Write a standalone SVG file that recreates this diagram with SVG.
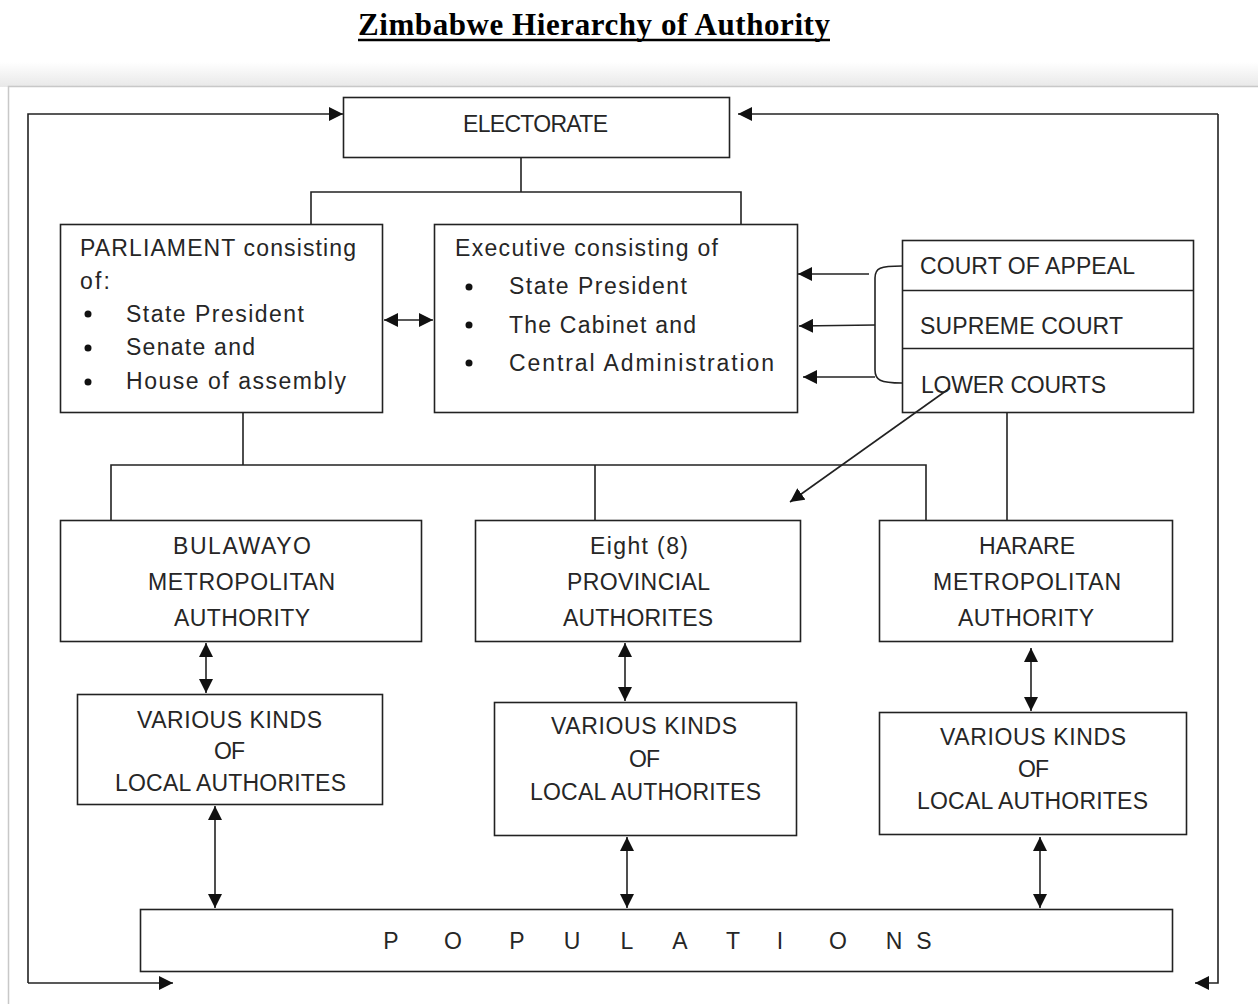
<svg xmlns="http://www.w3.org/2000/svg" width="1258" height="1004" viewBox="0 0 1258 1004">
<defs>
<linearGradient id="shade" x1="0" y1="0" x2="0" y2="1">
<stop offset="0" stop-color="#ffffff"/>
<stop offset="1" stop-color="#e8e8e8"/>
</linearGradient>
<marker id="ah" viewBox="0 0 10 10" refX="10" refY="5" markerWidth="14" markerHeight="14" markerUnits="userSpaceOnUse" orient="auto-start-reverse">
<path d="M0,0 L10,5 L0,10 z" fill="#111"/>
</marker>
<style>
.box{fill:#fff;stroke:#222;stroke-width:1.6}
.ln{fill:none;stroke:#222;stroke-width:1.6}
.ar{fill:none;stroke:#222;stroke-width:1.6;marker-end:url(#ah)}
.da{fill:none;stroke:#222;stroke-width:1.6;marker-start:url(#ah);marker-end:url(#ah)}
.t{font-family:"Liberation Sans",Arial,sans-serif;font-size:23px;fill:#262626}
.c{text-anchor:middle}
.title{font-family:"Liberation Serif","Times New Roman",serif;font-size:31px;font-weight:bold;fill:#000}
</style>
</defs>
<rect x="0" y="0" width="1258" height="1004" fill="#fff"/>
<rect x="0" y="62" width="1258" height="25" fill="url(#shade)"/>
<rect x="8.5" y="86.5" width="1260" height="930" fill="#fff" stroke="#c8c8c8" stroke-width="1.5"/>
<text class="title" x="358" y="35" textLength="472">Zimbabwe Hierarchy of Authority</text>
<line x1="358" y1="40" x2="830" y2="40" stroke="#000" stroke-width="2.5"/>

<g id="electorate">
<rect class="box" x="343.5" y="97.5" width="386" height="60"/>
<text class="t" x="463" y="132" textLength="145">ELECTORATE</text>
</g>

<g id="parliament">
<rect class="box" x="60.5" y="224.5" width="322" height="188"/>
<text class="t" x="80" y="256" textLength="276">PARLIAMENT consisting</text>
<text class="t" x="80" y="289" textLength="30">of:</text>
<circle cx="88" cy="314" r="3.5" fill="#111"/>
<circle cx="88" cy="348" r="3.5" fill="#111"/>
<circle cx="88" cy="382" r="3.5" fill="#111"/>
<text class="t" x="126" y="322" textLength="178">State President</text>
<text class="t" x="126" y="355" textLength="129">Senate and</text>
<text class="t" x="126" y="389" textLength="220">House of assembly</text>
</g>

<g id="executive">
<rect class="box" x="434.5" y="224.5" width="363" height="188"/>
<text class="t" x="455" y="256" textLength="263">Executive consisting of</text>
<circle cx="469" cy="287" r="3.5" fill="#111"/>
<circle cx="469" cy="325" r="3.5" fill="#111"/>
<circle cx="469" cy="363" r="3.5" fill="#111"/>
<text class="t" x="509" y="294" textLength="178">State President</text>
<text class="t" x="509" y="333" textLength="187">The Cabinet and</text>
<text class="t" x="509" y="371" textLength="265">Central Administration</text>
</g>

<g id="courts">
<rect class="box" x="902.5" y="240.5" width="291" height="172"/>
<line class="ln" x1="902" y1="290.5" x2="1194" y2="290.5"/>
<line class="ln" x1="902" y1="348.5" x2="1194" y2="348.5"/>
<text class="t" x="920" y="274" textLength="215">COURT OF APPEAL</text>
<text class="t" x="920" y="334" textLength="203">SUPREME COURT</text>
<text class="t" x="921" y="393" textLength="185">LOWER COURTS</text>
</g>

<g id="bulawayo">
<rect class="box" x="60.5" y="520.5" width="361" height="121"/>
<text class="t" x="173" y="554" textLength="138">BULAWAYO</text>
<text class="t" x="148" y="590" textLength="187">METROPOLITAN</text>
<text class="t" x="174" y="626" textLength="136">AUTHORITY</text>
</g>

<g id="provincial">
<rect class="box" x="475.5" y="520.5" width="325" height="121"/>
<text class="t" x="590" y="554" textLength="98">Eight (8)</text>
<text class="t" x="567" y="590" textLength="143">PROVINCIAL</text>
<text class="t" x="563" y="626" textLength="150">AUTHORITES</text>
</g>

<g id="harare">
<rect class="box" x="879.5" y="520.5" width="293" height="121"/>
<text class="t" x="979" y="554" textLength="96">HARARE</text>
<text class="t" x="933" y="590" textLength="188">METROPOLITAN</text>
<text class="t" x="958" y="626" textLength="136">AUTHORITY</text>
</g>

<g id="local1">
<rect class="box" x="77.5" y="694.5" width="305" height="110"/>
<text class="t" x="137" y="728" textLength="185">VARIOUS KINDS</text>
<text class="t" x="214" y="759" textLength="31">OF</text>
<text class="t" x="115" y="791" textLength="231">LOCAL AUTHORITES</text>
</g>

<g id="local2">
<rect class="box" x="494.5" y="702.5" width="302" height="133"/>
<text class="t" x="551" y="734" textLength="186">VARIOUS KINDS</text>
<text class="t" x="629" y="767" textLength="31">OF</text>
<text class="t" x="530" y="800" textLength="231">LOCAL AUTHORITES</text>
</g>

<g id="local3">
<rect class="box" x="879.5" y="712.5" width="307" height="122"/>
<text class="t" x="940" y="745" textLength="186">VARIOUS KINDS</text>
<text class="t" x="1018" y="777" textLength="31">OF</text>
<text class="t" x="917" y="809" textLength="231">LOCAL AUTHORITES</text>
</g>

<g id="populations">
<rect class="box" x="140.5" y="909.5" width="1032" height="62"/>
<text class="t c" y="949"><tspan x="391">P</tspan><tspan x="453">O</tspan><tspan x="517">P</tspan><tspan x="572">U</tspan><tspan x="627">L</tspan><tspan x="680">A</tspan><tspan x="733">T</tspan><tspan x="780">I</tspan><tspan x="838">O</tspan><tspan x="894">N</tspan><tspan x="924">S</tspan></text>
</g>

<g id="connectors">
<path class="ar" d="M28,983 V114 H343"/>
<path class="ar" d="M28,983 H173"/>
<path class="ar" d="M1218,114 H738"/>
<path class="ar" d="M1218,114 V983 H1195"/>
<path class="ln" d="M521,158 V192 M311,224 V192 H741 V224"/>
<line class="da" x1="384" y1="320" x2="433" y2="320"/>
<path class="ln" d="M902,266 C880,266 875,268 875,278 V370 C875,380 880,383 902,383"/>
<line class="ar" x1="869" y1="274" x2="798" y2="274"/>
<line class="ar" x1="875" y1="325" x2="799" y2="326"/>
<line class="ar" x1="875" y1="377" x2="803" y2="377"/>
<line class="ar" x1="950" y1="388" x2="790" y2="502"/>
<line class="ln" x1="1007" y1="413" x2="1007" y2="520"/>
<path class="ln" d="M243,413 V465 M111,520 V465 H926 V520 M595,465 V520"/>
<line class="da" x1="206" y1="643" x2="206" y2="693"/>
<line class="da" x1="625" y1="643" x2="625" y2="701"/>
<line class="da" x1="1031" y1="648" x2="1031" y2="711"/>
<line class="da" x1="215" y1="806" x2="215" y2="908"/>
<line class="da" x1="627" y1="837" x2="627" y2="908"/>
<line class="da" x1="1040" y1="837" x2="1040" y2="908"/>
</g>
</svg>
